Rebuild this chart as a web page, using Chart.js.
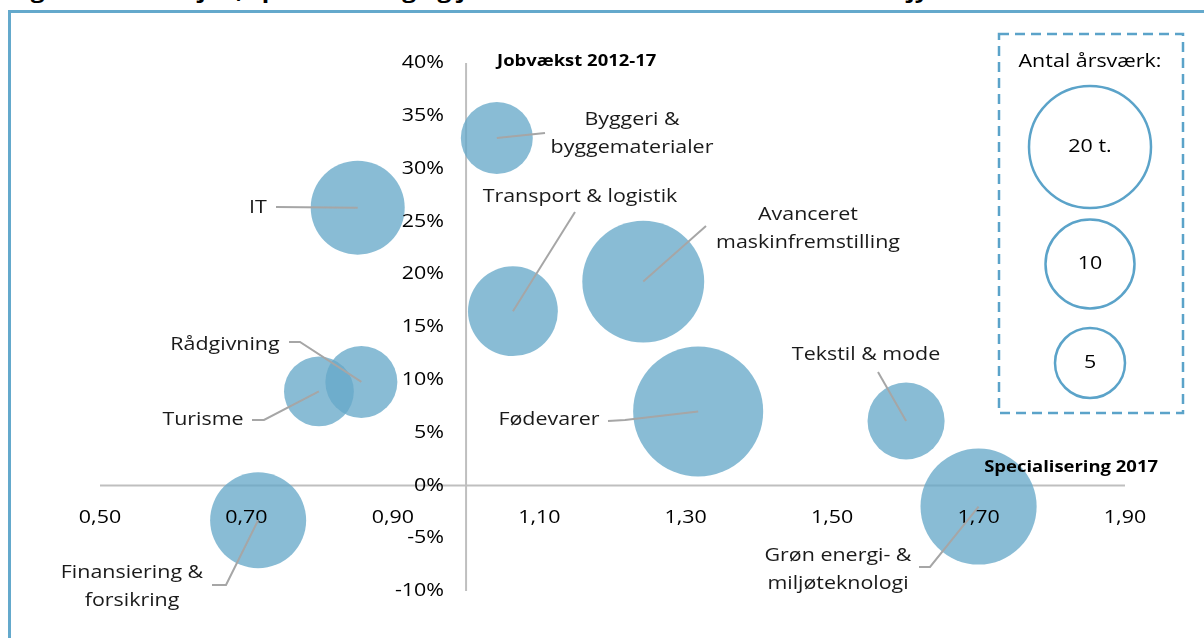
<!DOCTYPE html>
<html lang="da">
<head>
<meta charset="utf-8">
<title>Antal job, specialisering og jobvækst</title>
<script src="https://cdn.jsdelivr.net/npm/chart.js@4.4.1/dist/chart.umd.min.js"></script>
<style>
  html, body { margin: 0; padding: 0; background: #fff; }
  body { width: 1204px; height: 638px; position: relative; overflow: hidden; font-family: "Open Sans", sans-serif; }
  .title { position: absolute; left: 10px; top: -21px; font: 700 20px/24px "Open Sans", sans-serif; color: #000; white-space: nowrap; transform: scaleX(1.22); transform-origin: 0 0; }
  .frame { position: absolute; left: 8px; top: 10px; width: 1300px; height: 700px; border-left: 3px solid #64a9cc; border-top: 3px solid #64a9cc; }
  #chart { position: absolute; left: 0; top: 0; }
</style>
</head>
<body>
<div class="title">Figur 6.4: Antal job, specialisering og jobvækst for erhvervsområder i Midtjylland</div>
<div class="frame"></div>
<canvas id="chart" width="1204" height="638"></canvas>
<script>
// data
const categories = ['Byggeri & byggematerialer', 'IT', 'Transport & logistik', 'Avanceret maskinfremstilling',
  'Fødevarer', 'Tekstil & mode', 'Grøn energi- & miljøteknologi', 'Finansiering & forsikring', 'Turisme', 'Rådgivning'];
const specialisation = [1.042, 0.852, 1.064, 1.242, 1.317, 1.601, 1.700, 0.716, 0.799, 0.857];
const jobGrowth = [0.329, 0.263, 0.165, 0.193, 0.070, 0.061, -0.020, -0.033, 0.089, 0.098];
const jobs = [6.8, 11.6, 10.6, 19.5, 22.2, 7.8, 17.7, 12.1, 6.4, 6.8]; // thousand FTE
const xTicks = [0.5, 0.7, 0.9, 1.1, 1.3, 1.5, 1.7, 1.9];
const yTicks = [-0.10, -0.05, 0, 0.05, 0.10, 0.15, 0.20, 0.25, 0.30, 0.35, 0.40];
const legendSizes = ['20 t.', '10', '5'];

// layout of labels / leader lines (pixels), one entry per category
const labelLayout = [
  { lines: ['Byggeri &', 'byggematerialer'], x: 632, y: 120, leader: [[545, 133]] },
  { lines: ['IT'], x: 258, y: 208, leader: [[276, 207]] },
  { lines: ['Transport & logistik'], x: 580, y: 197, leader: [[575, 212]] },
  { lines: ['Avanceret', 'maskinfremstilling'], x: 808, y: 215, leader: [[706, 226]] },
  { lines: ['Fødevarer'], x: 549, y: 420, leader: [[608, 421], [625, 420]] },
  { lines: ['Tekstil & mode'], x: 866, y: 355, leader: [[878, 372]] },
  { lines: ['Grøn energi- &', 'miljøteknologi'], x: 838, y: 556, leader: [[919, 567], [930, 567]] },
  { lines: ['Finansiering &', 'forsikring'], x: 132, y: 573, leader: [[212, 585], [226, 585]] },
  { lines: ['Turisme'], x: 203, y: 420, leader: [[252, 420], [264, 420]] },
  { lines: ['Rådgivning'], x: 225, y: 345, leader: [[289, 342], [300, 342]] }
];
const legendBox = { left: 999, top: 34, right: 1183, bottom: 413, cx: 1090, titleY: 62, circles: [[147, 61], [264, 44.5], [363, 35]] };

const BLUE = '#5ba3c9';
const GREY_AXIS = '#bfbfbf';
const GREY_LEADER = '#a6a6a6';
const FONT = '"Open Sans", sans-serif';
const SX = 1.19; // the reference text is drawn a bit wide

const radiusFor = v => 13.8 * Math.sqrt(v);
const fmtX = v => v.toFixed(2).replace('.', ',');
const fmtY = v => Math.round(v * 100) + '%';

function wideText(ctx, s, x, y) {
  ctx.save();
  ctx.translate(x, y);
  ctx.scale(SX, 1);
  ctx.fillText(s, 0, 0);
  ctx.restore();
}

const axesPlugin = {
  id: 'centeredAxes',
  beforeDatasetsDraw(chart) {
    // axis lines sit under the bubbles
    const { ctx, scales: { x, y } } = chart;
    const x0 = x.getPixelForValue(1.0);
    const y0 = y.getPixelForValue(0);
    ctx.save();
    ctx.strokeStyle = GREY_AXIS;
    ctx.lineWidth = 2;
    ctx.beginPath();
    ctx.moveTo(x.getPixelForValue(xTicks[0]), y0);
    ctx.lineTo(x.getPixelForValue(xTicks[xTicks.length - 1]), y0);
    ctx.moveTo(x0, y.getPixelForValue(yTicks[yTicks.length - 1]));
    ctx.lineTo(x0, y.getPixelForValue(yTicks[0]));
    ctx.stroke();
    ctx.restore();
  },
  afterDatasetsDraw(chart) {
    const { ctx, scales: { x, y } } = chart;
    const x0 = x.getPixelForValue(1.0);
    const y0 = y.getPixelForValue(0);
    const meta = chart.getDatasetMeta(0);
    ctx.save();

    // tick labels and axis titles on top of the bubbles
    ctx.fillStyle = '#000';
    ctx.font = '18px ' + FONT;
    ctx.textBaseline = 'middle';
    ctx.textAlign = 'right';
    yTicks.forEach(t => wideText(ctx, fmtY(t), x0 - 22, y.getPixelForValue(t)));
    ctx.textAlign = 'center';
    xTicks.forEach(t => wideText(ctx, fmtX(t), x.getPixelForValue(t), y0 + 32));

    ctx.font = 'bold 15.5px ' + FONT;
    ctx.textAlign = 'left';
    wideText(ctx, 'Jobvækst 2012-17', x0 + 31, y.getPixelForValue(0.40) - 1);
    ctx.textAlign = 'right';
    wideText(ctx, 'Specialisering 2017', x.getPixelForValue(1.9) + 33, y0 - 18);

    // leader lines
    ctx.strokeStyle = GREY_LEADER;
    ctx.lineWidth = 2;
    labelLayout.forEach((lab, i) => {
      const pt = meta.data[i];
      ctx.beginPath();
      ctx.moveTo(lab.leader[0][0], lab.leader[0][1]);
      lab.leader.slice(1).forEach(p => ctx.lineTo(p[0], p[1]));
      ctx.lineTo(pt.x, pt.y);
      ctx.stroke();
    });

    ctx.fillStyle = '#1a1a1a';
    ctx.font = '18px ' + FONT;
    ctx.textAlign = 'center';
    labelLayout.forEach(lab => {
      lab.lines.forEach((s, k) => wideText(ctx, s, lab.x, lab.y + k * 28));
    });

    // size legend
    const L = legendBox;
    ctx.strokeStyle = BLUE;
    ctx.lineWidth = 2.5;
    ctx.setLineDash([10, 6]);
    ctx.strokeRect(L.left, L.top, L.right - L.left, L.bottom - L.top);
    ctx.setLineDash([]);
    ctx.fillStyle = '#000';
    wideText(ctx, 'Antal årsværk:', L.cx, L.titleY);
    L.circles.forEach((c, k) => {
      ctx.beginPath();
      ctx.arc(L.cx, c[0], c[1], 0, Math.PI * 2);
      ctx.fillStyle = '#fff';
      ctx.fill();
      ctx.stroke();
      ctx.fillStyle = '#000';
      wideText(ctx, legendSizes[k], L.cx, c[0]);
    });
    ctx.restore();
  }
};

new Chart(document.getElementById('chart'), {
  type: 'bubble',
  data: {
    datasets: [{
      label: 'Erhvervsområder',
      data: categories.map((c, i) => ({ x: specialisation[i], y: jobGrowth[i], r: radiusFor(jobs[i]) })),
      backgroundColor: 'rgba(102, 168, 200, 0.77)',
      borderWidth: 0,
      clip: false
    }]
  },
  options: {
    responsive: false,
    animation: false,
    devicePixelRatio: 1,
    layout: { autoPadding: false, padding: { left: 100, right: 79, top: 63, bottom: 47 } },
    scales: {
      x: { type: 'linear', min: 0.5, max: 1.9, display: false },
      y: { type: 'linear', min: -0.10, max: 0.40, display: false }
    },
    plugins: { legend: { display: false }, tooltip: { enabled: false } },
    events: []
  },
  plugins: [axesPlugin]
});
</script>
</body>
</html>
